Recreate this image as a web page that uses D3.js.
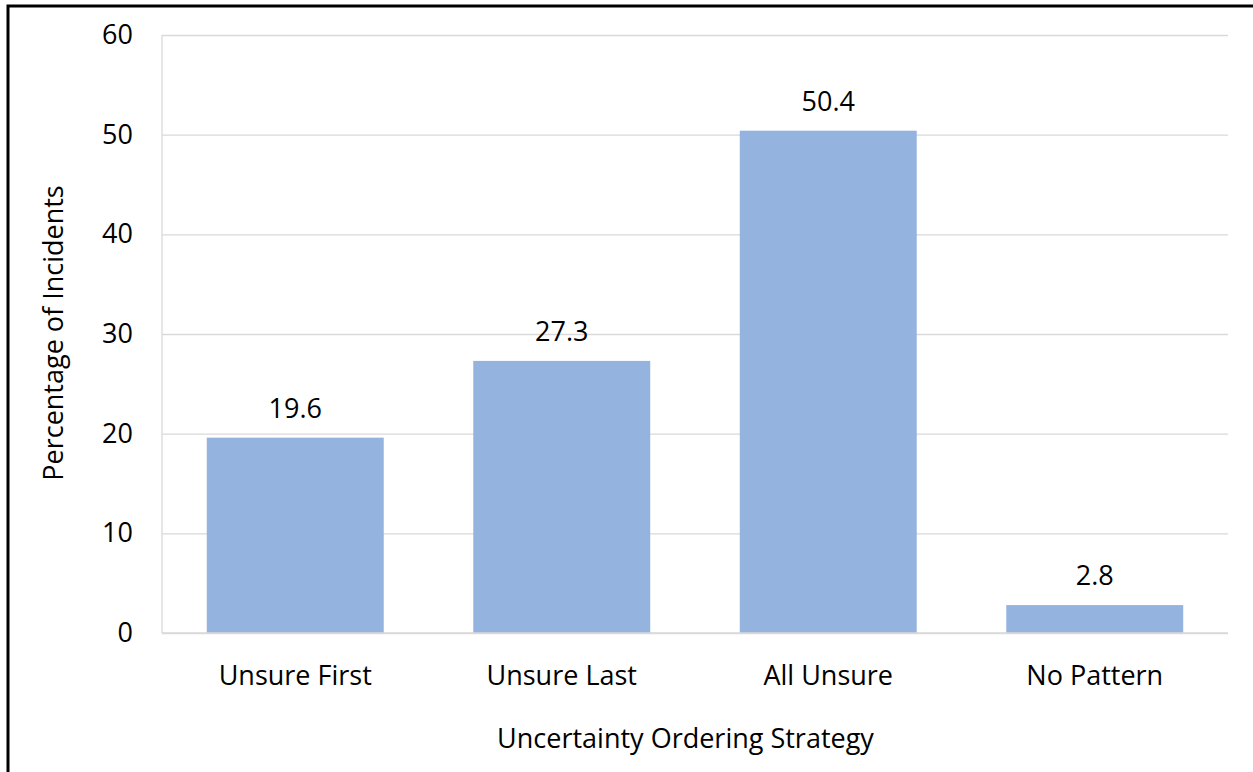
<!DOCTYPE html>
<html>
<head>
<meta charset="utf-8">
<script src="https://cdn.jsdelivr.net/npm/d3@7"></script>
<style>
  html, body { margin: 0; padding: 0; background: #fff; }
  svg { display: block; }
  text { font-family: "Open Sans", "Noto Sans", sans-serif; fill: #000; }
</style>
</head>
<body>
<svg id="chart" width="1253" height="772"></svg>
<script>
// Share of incidents by uncertainty ordering strategy
const categories = ["Unsure First", "Unsure Last", "All Unsure", "No Pattern"];
const percentages = [19.6, 27.3, 50.4, 2.8];
const yTicks = [0, 10, 20, 30, 40, 50, 60];
const yTitle = "Percentage of Incidents";
const xTitle = "Uncertainty Ordering Strategy";

const FONT_SIZE = 27;

const svg = d3.select("#chart");
const plot = { left: 162, right: 1228, top: 35, bottom: 633 };

// Outer frame (left and top edges)
svg.append("path")
  .attr("d", "M8,772 V6 H1253")
  .attr("fill", "none")
  .attr("stroke", "#000")
  .attr("stroke-width", 3);

const x = d3.scaleBand()
  .domain(categories)
  .range([plot.left, plot.right])
  .paddingInner(0.336)
  .paddingOuter(0.168);

const y = d3.scaleLinear()
  .domain([0, 60])
  .range([plot.bottom, plot.top]);

// Horizontal gridlines + y tick labels
const yAxis = d3.axisLeft(y)
  .tickValues(yTicks)
  .tickSize(-(plot.right - plot.left))
  .tickPadding(29)
  .tickFormat(d3.format("d"));

const gy = svg.append("g")
  .attr("transform", `translate(${plot.left},0)`)
  .call(yAxis);
gy.select(".domain").remove();
gy.selectAll(".tick line")
  .attr("stroke", "#d9d9d9")
  .attr("stroke-width", 1.3);
gy.selectAll(".tick text")
  .attr("font-size", FONT_SIZE)
  .attr("fill", "#000")
  .style("font-family", '"Open Sans", sans-serif');

// Left edge of plot area
svg.append("line")
  .attr("x1", plot.left).attr("x2", plot.left)
  .attr("y1", plot.top).attr("y2", plot.bottom)
  .attr("stroke", "#d9d9d9")
  .attr("stroke-width", 1.3);

// Bars
svg.append("g")
  .selectAll("rect")
  .data(percentages)
  .join("rect")
  .attr("x", (d, i) => x(categories[i]))
  .attr("width", x.bandwidth())
  .attr("y", d => y(d))
  .attr("height", d => y(0) - y(d))
  .attr("fill", "#95b3df");

// Baseline
svg.append("line")
  .attr("x1", plot.left).attr("x2", plot.right)
  .attr("y1", y(0)).attr("y2", y(0))
  .attr("stroke", "#d9d9d9")
  .attr("stroke-width", 1.5);

// Value labels
svg.append("g")
  .selectAll("text")
  .data(percentages)
  .join("text")
  .attr("x", (d, i) => x(categories[i]) + x.bandwidth() / 2)
  .attr("y", d => y(d) - 20)
  .attr("text-anchor", "middle")
  .attr("font-size", FONT_SIZE)
  .text(d => d3.format(".1f")(d));

// Category labels
svg.append("g")
  .selectAll("text")
  .data(categories)
  .join("text")
  .attr("x", d => x(d) + x.bandwidth() / 2)
  .attr("y", 685)
  .attr("text-anchor", "middle")
  .attr("font-size", FONT_SIZE)
  .text(d => d);

// Axis titles
svg.append("text")
  .attr("x", 685.5)
  .attr("y", 748)
  .attr("text-anchor", "middle")
  .attr("font-size", FONT_SIZE)
  .text(xTitle);

svg.append("text")
  .attr("transform", "translate(63,333) rotate(-90)")
  .attr("text-anchor", "middle")
  .attr("font-size", FONT_SIZE)
  .text(yTitle);
</script>
</body>
</html>
